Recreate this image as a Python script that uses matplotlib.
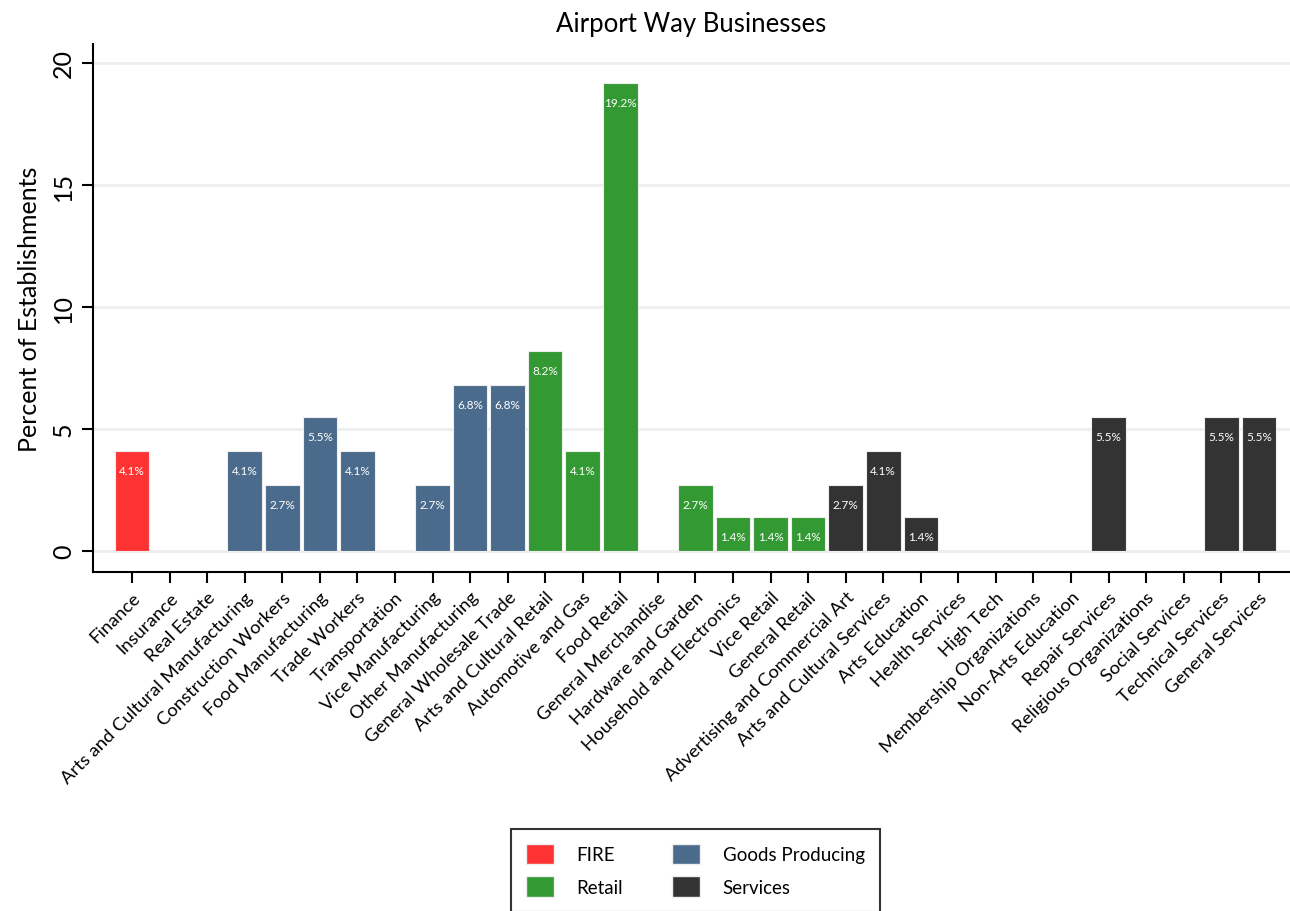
import matplotlib
matplotlib.use('Agg')
import matplotlib.pyplot as plt
from matplotlib.patches import Patch

plt.rcParams['font.family'] = ['Lato', 'DejaVu Sans']

# data
categories = ['Finance', 'Insurance', 'Real Estate',
              'Arts and Cultural Manufacturing', 'Construction Workers',
              'Food Manufacturing', 'Trade Workers', 'Transportation',
              'Vice Manufacturing', 'Other Manufacturing',
              'General Wholesale Trade', 'Arts and Cultural Retail',
              'Automotive and Gas', 'Food Retail', 'General Merchandise',
              'Hardware and Garden', 'Household and Electronics',
              'Vice Retail', 'General Retail',
              'Advertising and Commercial Art', 'Arts and Cultural Services',
              'Arts Education', 'Health Services', 'High Tech',
              'Membership Organizations', 'Non-Arts Education',
              'Repair Services', 'Religious Organizations', 'Social Services',
              'Technical Services', 'General Services']
values = [4.1, 0, 0,
          4.1, 2.7, 5.5, 4.1, 0, 2.7, 6.8, 6.8,
          8.2, 4.1, 19.2, 0, 2.7, 1.4, 1.4, 1.4,
          2.7, 4.1, 1.4, 0, 0, 0, 0, 5.5, 0, 0, 5.5, 5.5]
groups = ['FIRE'] * 3 + ['Goods Producing'] * 8 + ['Retail'] * 8 + ['Services'] * 12
group_names = ['FIRE', 'Goods Producing', 'Retail', 'Services']
group_colors = {'FIRE': '#ff3333', 'Goods Producing': '#4a6b8b',
                'Retail': '#339933', 'Services': '#333333'}

fig = plt.figure(figsize=(12.9, 9.12), dpi=100)
ax = fig.add_axes([0.0721, 0.3717, 0.9279, 0.579])

x = list(range(len(categories)))
colors = [group_colors[g] for g in groups]
ax.bar(x, values, width=0.92, color=colors, edgecolor='#eeeeee', linewidth=0.8, zorder=3)

for xi, v in zip(x, values):
    if v > 0:
        ax.text(xi, v - 0.8, f'{v:.1f}%', ha='center', va='center',
                color='white', fontsize=8.5, zorder=4)

ax.set_xlim(-1.04, 30.83)
ax.set_ylim(-0.86, 20.78)
ax.set_yticks([0, 5, 10, 15, 20])
ax.yaxis.grid(True, color='#eeeeee', linewidth=2, zorder=0)
ax.set_axisbelow(True)
for s in ['top', 'right']:
    ax.spines[s].set_visible(False)
for s in ['left', 'bottom']:
    ax.spines[s].set_linewidth(1.5)

ax.set_xticks(x)
ax.set_xticklabels(categories, rotation=45, ha='right', rotation_mode='anchor', fontsize=13.3)
ax.tick_params(axis='both', length=8, width=1.5, direction='out')
ax.tick_params(axis='x', pad=4)
ax.tick_params(axis='y', labelsize=18, labelrotation=90, pad=5)
for lab in ax.get_yticklabels():
    lab.set_va('center')
ax.set_ylabel('Percent of Establishments', fontsize=18, labelpad=8)
ax.set_title('Airport Way Businesses', fontsize=18.5, pad=9)

handles = [Patch(facecolor=group_colors[g], edgecolor='#eeeeee') for g in group_names]
leg = fig.legend([handles[0], handles[2], handles[1], handles[3]],
                 ['FIRE', 'Retail', 'Goods Producing', 'Services'],
                 ncol=2, loc='lower center', bbox_to_anchor=(0.539, -0.011),
                 fontsize=13.5, frameon=True, fancybox=False, edgecolor='black',
                 handlelength=1.5, handleheight=1.3, columnspacing=2.6,
                 handletextpad=1.2, borderpad=0.8, labelspacing=0.65)
leg.get_frame().set_linewidth(1.5)

fig.savefig('out.png', dpi=100)
